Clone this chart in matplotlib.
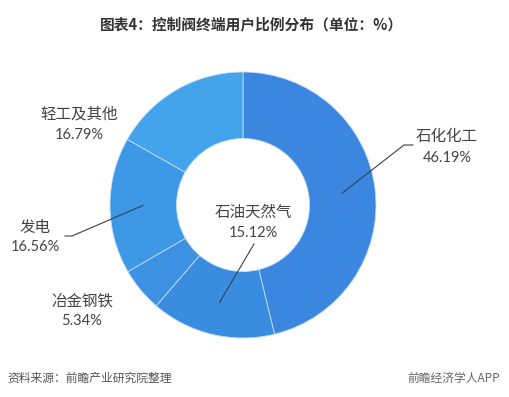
import numpy as np
import matplotlib
matplotlib.use("Agg")
import matplotlib.pyplot as plt

plt.rcParams["font.family"] = ["Noto Sans CJK SC", "DejaVu Sans"]

# data
labels = ["石化化工", "石油天然气", "冶金钢铁", "发电", "轻工及其他"]
shares = [46.19, 15.12, 5.34, 16.56, 16.79]
colors = ["#3b86df", "#3a8ce1", "#3d91e3", "#3d98e6", "#43a3eb"]

W, H = 509, 397
fig = plt.figure(figsize=(W / 100, H / 100), dpi=100)
ax = fig.add_axes([0, 0, 1, 1])

cx, cy, R = 243, H - 205, 133
wedges, _ = ax.pie(shares, colors=colors, startangle=90, counterclock=False,
                   center=(cx, cy), radius=R, frame=True,
                   wedgeprops=dict(width=R * 0.5, edgecolor="#c4ddf6", linewidth=0.6))
ax.set_xlim(0, W)
ax.set_ylim(0, H)
ax.set_aspect("equal")
ax.axis("off")

txt = "#444444"
# label positions (pixels from top) and leader line ends
lab_pos = {
    "石化化工": (447, 136, 158),
    "石油天然气": (253, 212, 233),
    "冶金钢铁": (82, 301, 321),
    "发电": (35, 227, 247),
    "轻工及其他": (79, 114, 135),
}
lines = {
    "石化化工": [(404, 145), (413, 145)],
    "石油天然气": [(254, 244)],
    "发电": [(72, 236), (65, 236)],
}

for w, lab, val in zip(wedges, labels, shares):
    x, y1, y2 = lab_pos[lab]
    ax.text(x, H - y1, lab, ha="center", va="center", fontsize=11.2, color=txt)
    ax.text(x, H - y2, "%.2f%%" % val, ha="center", va="center", fontsize=10.5,
            color=txt, family=["Lato", "DejaVu Sans"])
    if lab in lines:
        ang = np.deg2rad((w.theta1 + w.theta2) / 2)
        px = cx + 100 * np.cos(ang)
        py = cy + 100 * np.sin(ang)
        xs = [px] + [p[0] for p in lines[lab]]
        ys = [py] + [H - p[1] for p in lines[lab]]
        ax.plot(xs, ys, color="#3a3f4a", lw=0.8)

ax.text(252, H - 24, "图表4：控制阀终端用户比例分布（单位：%）", ha="center", va="center",
        fontsize=10.6, fontweight="bold", color="#333333")
ax.text(7, H - 378, "资料来源：前瞻产业研究院整理", ha="left", va="center",
        fontsize=8.5, color="#555555", style="italic")
ax.text(500, H - 378, "前瞻经济学人APP", ha="right", va="center",
        fontsize=8.5, color="#666666")

fig.savefig("out.png", dpi=100, facecolor="white")
